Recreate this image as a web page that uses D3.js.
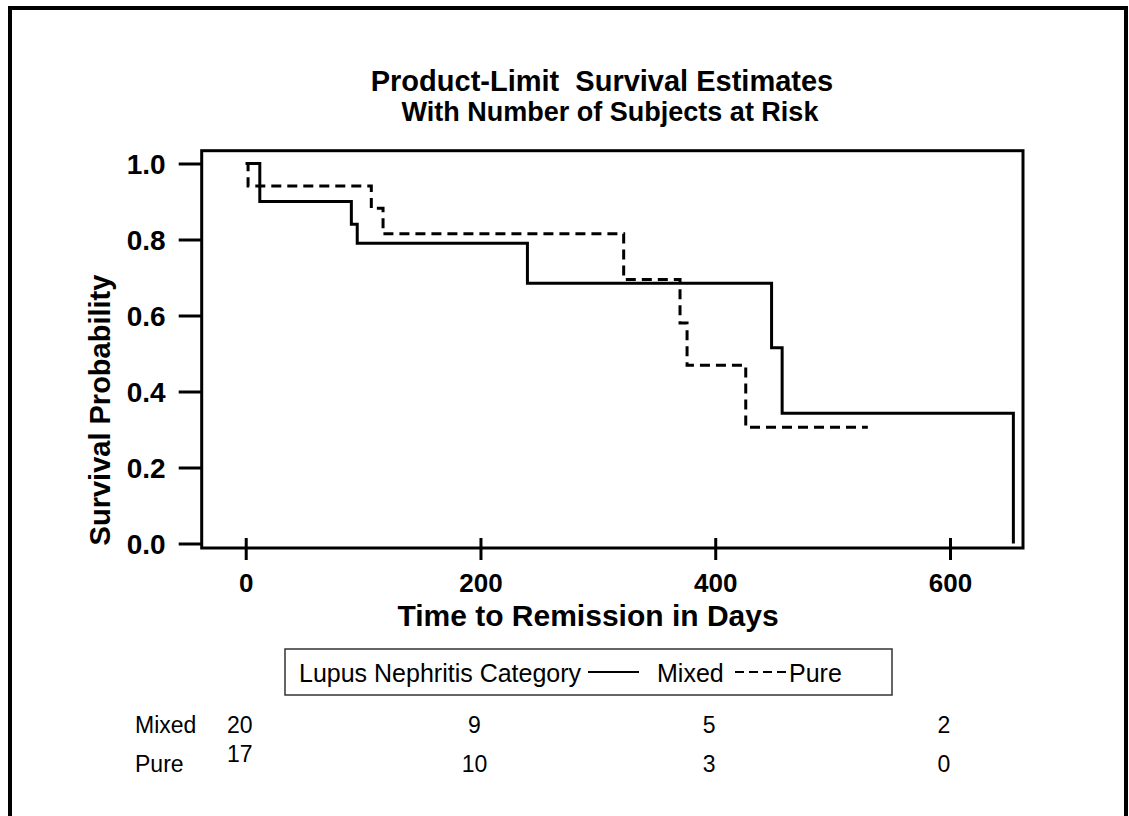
<!DOCTYPE html>
<html><head><meta charset="utf-8">
<script src="https://cdn.jsdelivr.net/npm/d3@7"></script>
<style>
body{margin:0;background:#fff}
svg{display:block}
text{font-family:"Liberation Sans",Arial,Helvetica,sans-serif;fill:#000;white-space:pre}
</style>
</head><body>
<svg id="c" width="1129" height="816"></svg>
<script>
// ---- data ----
const titleLines = ["Product-Limit  Survival Estimates", "With Number of Subjects at Risk"];
const xLabel = "Time to Remission in Days";
const yLabel = "Survival Probability";
const xTicks = [0, 200, 400, 600];
const yTicks = [0, 0.2, 0.4, 0.6, 0.8, 1.0];
const groups = ["Mixed", "Pure"];
const mixedTime = [0, 12, 90, 95, 240, 448, 457, 654];
const mixedSurv = [1.0, 0.90, 0.84, 0.79, 0.685, 0.515, 0.343, 0.0];
const pureTime = [0, 2, 107, 117, 322, 370, 376, 426, 530];
const pureSurv = [1.0, 0.941, 0.882, 0.815, 0.695, 0.58, 0.469, 0.306, 0.306];
const riskTimes = [0, 200, 400, 600];
const mixedRisk = [20, 9, 5, 2];
const pureRisk = [17, 10, 3, 0];
const legendTitle = "Lupus Nephritis Category";

// ---- layout ----
const svg = d3.select("#c");
const F = {left: 201.7, right: 1023, top: 150.7, bottom: 548};
const x = d3.scaleLinear().domain([-37.5, 662.2]).range([F.left, F.right]);
const y = d3.scaleLinear().domain([0, 1]).range([543.5, 163.5]);

// outer border
svg.append("rect").attr("x", 10).attr("y", 8).attr("width", 1116).attr("height", 900)
  .attr("fill", "none").attr("stroke", "#000").attr("stroke-width", 4);

// titles
svg.append("text").attr("x", 602).attr("y", 91).attr("text-anchor", "middle")
  .attr("font-size", 29).attr("font-weight", "bold").text(titleLines[0]);
svg.append("text").attr("x", 610).attr("y", 121).attr("text-anchor", "middle")
  .attr("font-size", 27).attr("font-weight", "bold").text(titleLines[1]);

// y axis
const gy = svg.append("g").attr("transform", `translate(${F.left},0)`)
  .call(d3.axisLeft(y).tickValues(yTicks).tickFormat(d3.format(".1f")).tickSize(23).tickPadding(13));
gy.select(".domain").remove();
gy.selectAll(".tick line").attr("stroke", "#000").attr("stroke-width", 3);
gy.selectAll(".tick text").attr("font-size", 28).attr("font-weight", "bold")
  .attr("font-family", null).attr("dy", "0.36em");

// x axis
const gx = svg.append("g").attr("transform", `translate(0,${F.bottom})`)
  .call(d3.axisBottom(x).tickValues(xTicks).tickSize(12).tickPadding(14));
gx.select(".domain").remove();
gx.selectAll(".tick line").attr("stroke", "#000").attr("stroke-width", 3).attr("y1", -10);
gx.selectAll(".tick text").attr("font-size", 26).attr("font-weight", "bold").attr("font-family", null);

// frame
svg.append("rect").attr("x", F.left).attr("y", F.top)
  .attr("width", F.right - F.left).attr("height", F.bottom - F.top)
  .attr("fill", "none").attr("stroke", "#000").attr("stroke-width", 3);

// axis labels
svg.append("text").attr("x", 588).attr("y", 626).attr("text-anchor", "middle")
  .attr("font-size", 30).attr("font-weight", "bold").text(xLabel);
svg.append("text").attr("transform", "translate(110,410) rotate(-90)").attr("text-anchor", "middle")
  .attr("font-size", 29).attr("font-weight", "bold").text(yLabel);

// curves
const line = d3.line().x(d => x(d[0])).y(d => y(d[1])).curve(d3.curveStepAfter);
const mixedPts = mixedTime.map((t, i) => [t, mixedSurv[i]]);
const purePts = pureTime.map((t, i) => [t, pureSurv[i]]);
svg.append("path").datum(mixedPts).attr("d", line).attr("fill", "none")
  .attr("stroke", "#000").attr("stroke-width", 3).attr("stroke-linejoin", "miter");
svg.append("path").datum(purePts).attr("d", line).attr("fill", "none")
  .attr("stroke", "#000").attr("stroke-width", 3).attr("stroke-dasharray", "10,6");

// legend
const lg = svg.append("g");
lg.append("rect").attr("x", 285).attr("y", 649).attr("width", 607).attr("height", 46)
  .attr("fill", "none").attr("stroke", "#333").attr("stroke-width", 1.5);
lg.append("text").attr("x", 299).attr("y", 682).attr("font-size", 25).text(legendTitle);
lg.append("line").attr("x1", 588).attr("x2", 639).attr("y1", 672).attr("y2", 672)
  .attr("stroke", "#000").attr("stroke-width", 2);
lg.append("text").attr("x", 657).attr("y", 682).attr("font-size", 25).text(groups[0]);
lg.append("line").attr("x1", 735).attr("x2", 787).attr("y1", 672).attr("y2", 672)
  .attr("stroke", "#000").attr("stroke-width", 2).attr("stroke-dasharray", "9,5");
lg.append("text").attr("x", 789).attr("y", 682).attr("font-size", 25).text(groups[1]);

// at-risk table
const rows = [{name: groups[0], vals: mixedRisk, base: 733}, {name: groups[1], vals: pureRisk, base: 772}];
rows.forEach(r => {
  svg.append("text").attr("x", 135).attr("y", r.base).attr("font-size", 23).text(r.name);
  svg.selectAll(null).data(r.vals).enter().append("text")
    .attr("x", (d, i) => x(riskTimes[i]) - 6)
    .attr("y", (d, i) => (r.name === "Pure" && i === 0) ? r.base - 10 : r.base)
    .attr("text-anchor", "middle").attr("font-size", 23).text(d => d);
});
</script>
</body></html>
